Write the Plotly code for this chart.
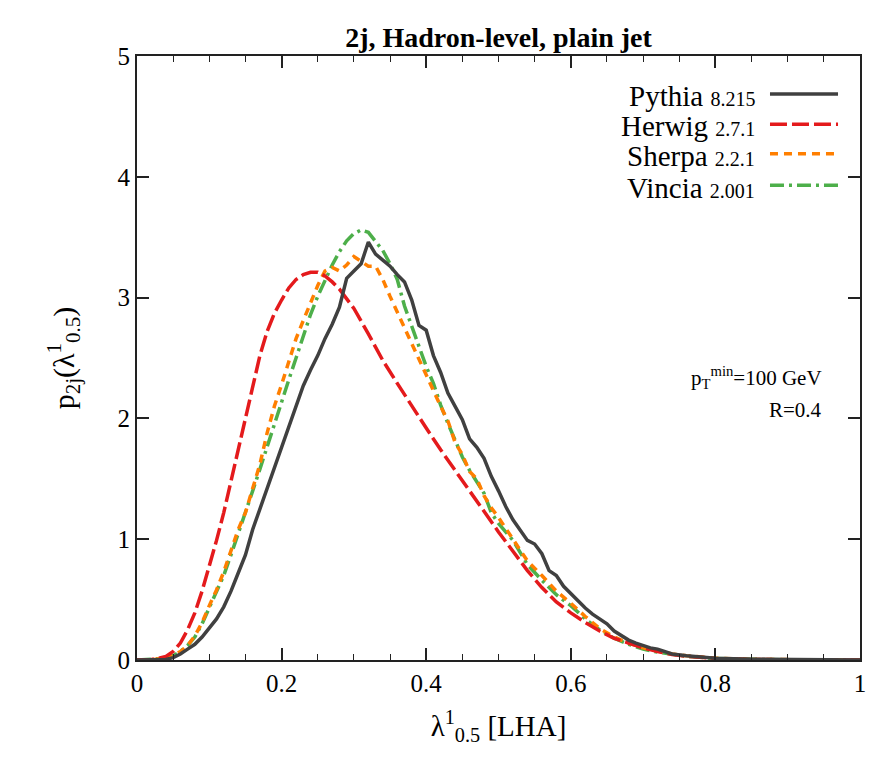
import plotly.graph_objects as go

# ---------------- data ----------------
pythia_x = [0, 0.02, 0.04, 0.05, 0.06, 0.07, 0.08, 0.09, 0.10, 0.11, 0.12, 0.13, 0.14, 0.15,
            0.16, 0.17, 0.18, 0.19, 0.20, 0.21, 0.22, 0.23, 0.24, 0.25, 0.26, 0.27, 0.28, 0.29,
            0.30, 0.31, 0.32, 0.33, 0.34, 0.35, 0.36, 0.37, 0.38, 0.39, 0.40, 0.41, 0.42, 0.43,
            0.44, 0.45, 0.46, 0.47, 0.48, 0.49, 0.50, 0.51, 0.52, 0.53, 0.54, 0.55, 0.56, 0.57,
            0.58, 0.59, 0.60, 0.61, 0.62, 0.63, 0.64, 0.65, 0.66, 0.67, 0.68, 0.69, 0.70, 0.71,
            0.72, 0.73, 0.74, 0.76, 0.78, 0.80, 0.85, 0.90, 0.95, 1.0]
pythia_y = [0, 0, 0.005, 0.02, 0.05, 0.09, 0.13, 0.19, 0.26, 0.34, 0.44, 0.57, 0.72, 0.87,
            1.08, 1.25, 1.42, 1.60, 1.76, 1.93, 2.12, 2.27, 2.40, 2.52, 2.66, 2.78, 2.92, 3.16,
            3.22, 3.28, 3.46, 3.36, 3.31, 3.26, 3.19, 3.13, 2.98, 2.77, 2.73, 2.52, 2.38, 2.21,
            2.10, 1.99, 1.83, 1.76, 1.67, 1.52, 1.40, 1.27, 1.16, 1.08, 0.99, 0.96, 0.88, 0.74,
            0.70, 0.61, 0.55, 0.48, 0.43, 0.38, 0.34, 0.30, 0.24, 0.20, 0.165, 0.14, 0.12, 0.10,
            0.09, 0.07, 0.05, 0.035, 0.025, 0.015, 0.006, 0.002, 0.001, 0]

herwig_x = [0, 0.02, 0.03, 0.04, 0.05, 0.06, 0.07, 0.08, 0.09, 0.10, 0.11, 0.12, 0.13, 0.14,
            0.15, 0.16, 0.17, 0.18, 0.19, 0.20, 0.21, 0.22, 0.23, 0.24, 0.25, 0.26, 0.27, 0.28,
            0.29, 0.30, 0.32, 0.34, 0.36, 0.38, 0.40, 0.42, 0.44, 0.46, 0.48, 0.50, 0.52, 0.54,
            0.56, 0.58, 0.60, 0.62, 0.64, 0.66, 0.68, 0.70, 0.72, 0.74, 0.76, 0.80, 0.85, 0.90, 1.0]
herwig_y = [0, 0.005, 0.015, 0.03, 0.07, 0.14, 0.25, 0.39, 0.57, 0.77, 0.99, 1.22, 1.48, 1.76,
            2.02, 2.28, 2.52, 2.72, 2.87, 2.98, 3.08, 3.15, 3.19, 3.21, 3.21, 3.18, 3.13, 3.07,
            2.99, 2.91, 2.70, 2.48, 2.29, 2.10, 1.92, 1.74, 1.57, 1.39, 1.23, 1.06, 0.90, 0.74,
            0.60, 0.48, 0.39, 0.31, 0.24, 0.18, 0.14, 0.10, 0.07, 0.045, 0.03, 0.013, 0.004, 0.001, 0]

sherpa_x = [0, 0.02, 0.04, 0.05, 0.06, 0.07, 0.08, 0.09, 0.10, 0.11, 0.12, 0.13, 0.14, 0.15,
            0.16, 0.17, 0.18, 0.19, 0.20, 0.21, 0.22, 0.23, 0.24, 0.25, 0.26, 0.27, 0.28, 0.29,
            0.30, 0.31, 0.32, 0.33, 0.34, 0.35, 0.36, 0.37, 0.38, 0.39, 0.40, 0.41, 0.42, 0.43,
            0.44, 0.45, 0.46, 0.47, 0.48, 0.49, 0.50, 0.52, 0.54, 0.56, 0.58, 0.60, 0.62, 0.64,
            0.66, 0.68, 0.70, 0.72, 0.74, 0.76, 0.80, 0.85, 0.90, 1.0]
sherpa_y = [0, 0, 0.02, 0.04, 0.07, 0.12, 0.20, 0.31, 0.45, 0.58, 0.73, 0.90, 1.08, 1.22,
            1.42, 1.62, 1.88, 2.10, 2.28, 2.48, 2.66, 2.81, 2.95, 3.10, 3.22, 3.25, 3.22, 3.27,
            3.34, 3.30, 3.26, 3.26, 3.15, 3.01, 2.88, 2.74, 2.62, 2.49, 2.36, 2.22, 2.10, 1.98,
            1.80, 1.70, 1.56, 1.50, 1.36, 1.26, 1.18, 1.00, 0.82, 0.70, 0.57, 0.47, 0.36, 0.26,
            0.19, 0.14, 0.10, 0.075, 0.05, 0.035, 0.015, 0.005, 0.002, 0]

vincia_x = [0, 0.02, 0.04, 0.05, 0.06, 0.07, 0.08, 0.09, 0.10, 0.11, 0.12, 0.13, 0.14, 0.15,
            0.16, 0.17, 0.18, 0.19, 0.20, 0.21, 0.22, 0.23, 0.24, 0.25, 0.26, 0.27, 0.28, 0.29,
            0.30, 0.31, 0.32, 0.33, 0.34, 0.35, 0.36, 0.37, 0.38, 0.39, 0.40, 0.41, 0.42, 0.43,
            0.44, 0.45, 0.46, 0.47, 0.48, 0.49, 0.50, 0.52, 0.54, 0.56, 0.58, 0.60, 0.62, 0.64,
            0.66, 0.68, 0.70, 0.72, 0.74, 0.76, 0.80, 0.85, 0.90, 1.0]
vincia_y = [0, 0.005, 0.015, 0.035, 0.07, 0.12, 0.19, 0.30, 0.43, 0.56, 0.70, 0.87, 1.04, 1.22,
            1.40, 1.58, 1.77, 1.95, 2.13, 2.32, 2.50, 2.69, 2.86, 3.01, 3.14, 3.27, 3.38, 3.47,
            3.53, 3.56, 3.54, 3.46, 3.39, 3.28, 3.15, 2.93, 2.76, 2.59, 2.43, 2.29, 2.11, 1.96,
            1.82, 1.68, 1.57, 1.48, 1.38, 1.22, 1.13, 0.99, 0.79, 0.66, 0.54, 0.45, 0.34, 0.25,
            0.18, 0.13, 0.09, 0.065, 0.045, 0.03, 0.012, 0.004, 0.001, 0]

x_ticks = [0, 0.2, 0.4, 0.6, 0.8, 1]
x_tick_labels = ["0", "0.2", "0.4", "0.6", "0.8", "1"]
y_ticks = [0, 1, 2, 3, 4, 5]
y_tick_labels = ["0", "1", "2", "3", "4", "5"]

series_names = ["Pythia", "Herwig", "Sherpa", "Vincia"]
series_versions = ["8.215", "2.7.1", "2.2.1", "2.001"]

# ---------------- styles ----------------
FONT = "Liberation Serif"
colors = ["#404040", "#e41a1c", "#ff7f00", "#4daf4a"]
dashes = ["solid", "17px,5px", "8px,6px", "14px,5px,3px,5px"]
widths = [3.5, 3.5, 3.5, 3.5]

fig = go.Figure()
data = [(pythia_x, pythia_y), (herwig_x, herwig_y), (sherpa_x, sherpa_y), (vincia_x, vincia_y)]
traces = []
for i, (xs, ys) in enumerate(data):
    traces.append(go.Scatter(
        x=xs, y=ys, mode="lines", name=f"{series_names[i]} {series_versions[i]}",
        line=dict(color=colors[i], dash=dashes[i], width=widths[i]),
        showlegend=False,
    ))
# Pythia drawn last so it sits on top
for t in reversed(traces):
    fig.add_trace(t)

# custom legend (text right-aligned, sample to the right)
leg_text_y = [0.933, 0.884, 0.834, 0.782]
leg_line_y = [0.937, 0.887, 0.838, 0.786]
for i in range(4):
    fig.add_annotation(
        xref="paper", yref="paper", x=0.857, y=leg_text_y[i], xanchor="right", yanchor="middle",
        text=f"{series_names[i]} <span style='font-size:20px'>{series_versions[i]}</span>",
        showarrow=False, font=dict(family=FONT, size=29, color="black"),
    )
    fig.add_shape(
        type="line", xref="paper", yref="paper", x0=0.8755, x1=0.9696,
        y0=leg_line_y[i], y1=leg_line_y[i],
        line=dict(color=colors[i], dash=dashes[i], width=widths[i]),
    )

fig.add_annotation(xref="paper", yref="paper", x=0.95, y=0.467, xanchor="right", yanchor="middle",
                   text="p<sub>T</sub><sup>min</sup>=100 GeV", showarrow=False,
                   font=dict(family=FONT, size=21, color="black"))
fig.add_annotation(xref="paper", yref="paper", x=0.95, y=0.414, xanchor="right", yanchor="middle",
                   text="R=0.4", showarrow=False,
                   font=dict(family=FONT, size=21, color="black"))

fig.update_layout(
    width=886, height=767,
    margin=dict(l=137, r=26, t=56, b=107),
    paper_bgcolor="white", plot_bgcolor="white",
    title=dict(text="<b>2j, Hadron-level, plain jet</b>", x=0.5, xref="paper", xanchor="center",
               y=1 - 37 / 767, yanchor="middle", font=dict(family=FONT, size=28, color="black")),
    font=dict(family=FONT, size=25, color="black"),
)
fig.update_xaxes(
    range=[0, 1], tickvals=x_ticks, ticktext=x_tick_labels,
    ticks="inside", ticklen=12, tickwidth=1.5, tickcolor="#222",
    minor=dict(dtick=0.05, tick0=0, ticks="inside", ticklen=6, tickwidth=1.2, tickcolor="#222"),
    showline=True, linecolor="#222", linewidth=2, mirror="ticks",
    showgrid=False, zeroline=False,
    title=dict(text="λ<sup>1</sup><sub>0.5</sub> [LHA]", standoff=20, font=dict(family=FONT, size=29)),
    tickfont=dict(family=FONT, size=25),
)
fig.update_yaxes(
    range=[0, 5], tickvals=y_ticks, ticktext=y_tick_labels,
    ticks="inside", ticklen=12, tickwidth=1.5, tickcolor="#222",
    showline=True, linecolor="#222", linewidth=2, mirror="ticks",
    showgrid=False, zeroline=False,
    title=dict(text="p<sub>2j</sub>(λ<sup>1</sup><sub>0.5</sub>)", standoff=34, font=dict(family=FONT, size=30)),
    tickfont=dict(family=FONT, size=25),
)

fig.write_html("out.html")
